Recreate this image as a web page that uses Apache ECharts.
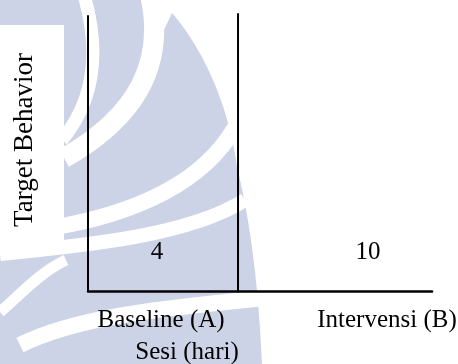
<!DOCTYPE html>
<html>
<head>
<meta charset="utf-8">
<script src="https://cdn.jsdelivr.net/npm/echarts@6/dist/echarts.min.js"></script>
<style>
html,body{margin:0;padding:0;background:#fff;}
#chart{width:458px;height:364px;}
</style>
</head>
<body>
<div id="chart"></div>
<script>
// ---- data ----
const phases = ['Baseline (A)', 'Intervensi (B)'];
const sessionCounts = [4, 10];
const xAxisTitle = 'Sesi (hari)';
const yAxisTitle = 'Target Behavior';

// ---- layout (phase units on x, 0..10 on y) ----
const phaseEnd = 1;          // phase change position
const xMax = 2.293;
const countPos = [[0.46, 1.42], [1.867, 1.42]];
const phaseLabelX = [0.487, 1.993];
const FONT = '"Liberation Serif","Times New Roman",serif';
const WM = '#cdd3e6';

const chart = echarts.init(document.getElementById('chart'), null, {renderer: 'canvas'});

chart.setOption({
  animation: false,
  backgroundColor: '#fff',
  grid: {left: 88, right: 26, top: 16, bottom: 73},
  xAxis: {
    type: 'value', min: 0, max: xMax,
    axisLine: {show: true, onZero: false, lineStyle: {color: '#000', width: 2.5}},
    axisTick: {show: false}, axisLabel: {show: false}, splitLine: {show: false}
  },
  yAxis: {
    type: 'value', min: 0, max: 10,
    axisLine: {show: true, lineStyle: {color: '#000', width: 2}},
    axisTick: {show: false}, axisLabel: {show: false}, splitLine: {show: false}
  },
  series: [
    {
      type: 'line', clip: false, symbol: 'none', silent: true,
      data: [[phaseEnd, 0], [phaseEnd, 10.1]],
      lineStyle: {color: '#000', width: 2}
    }
  ]
});

// ---- texts positioned through the grid's scales ----
const px = (x, y) => chart.convertToPixel({gridIndex: 0}, [x, y]);
const axisY = px(0, 0)[1];
const txt = (text, x, y, size) => ({
  type: 'text', z: 10, silent: true,
  style: {text, x, y, textAlign: 'center', textVerticalAlign: 'middle',
    font: size + 'px ' + FONT, fill: '#000'}
});
const texts = [];
sessionCounts.forEach((v, i) => {
  const p = px(countPos[i][0], countPos[i][1]);
  texts.push(txt(String(v), p[0], p[1], 25));
});
phases.forEach((p, i) => texts.push(txt(p, px(phaseLabelX[i], 0)[0], axisY + 29, 25)));
texts.push(txt(xAxisTitle, px(0.66, 0)[0], axisY + 61, 25));
texts.push({
  type: 'text', z: 10, x: 25, y: 140, rotation: Math.PI / 2, silent: true,
  style: {text: yAxisTitle, x: 0, y: 0, textAlign: 'center', textVerticalAlign: 'middle',
    font: '27px ' + FONT, fill: '#000'}
});

// ---- background watermark (decoration) ----
function bez(p0, c1, c2, p1, n) {
  const out = [];
  for (let i = 0; i <= n; i++) {
    const t = i / n, u = 1 - t;
    out.push([u*u*u*p0[0] + 3*u*u*t*c1[0] + 3*u*t*t*c2[0] + t*t*t*p1[0],
              u*u*u*p0[1] + 3*u*u*t*c1[1] + 3*u*t*t*c2[1] + t*t*t*p1[1]]);
  }
  return out;
}
const outline = [[0,0],[158,0],[163,32]]
  .concat(bez([172,13],[200,45],[228,100],[237,167],16))
  .concat(bez([237,167],[250,220],[258,280],[262,364],12))
  .concat([[0,364]]);
function gap(p0, c1, c2, p1, w) {
  return {type: 'bezierCurve', z: -9, silent: true,
    shape: {x1: p0[0], y1: p0[1], cpx1: c1[0], cpy1: c1[1], cpx2: c2[0], cpy2: c2[1], x2: p1[0], y2: p1[1]},
    style: {stroke: '#fff', lineWidth: w, fill: null}};
}
const wm = [
  {type: 'polygon', z: -10, silent: true, shape: {points: outline}, style: {fill: WM}},
  gap([84,-5],[100,50],[95,100],[62,140], 13),
  gap([150,-5],[165,60],[140,115],[64,158], 20),
  gap([62,226],[120,215],[205,190],[240,118], 16),
  gap([0,254],[90,245],[190,235],[245,200], 14),
  gap([20,345],[80,315],[170,308],[265,298], 16),
  gap([0,312],[20,295],[40,272],[66,260], 11),
  {type: 'rect', z: -8, silent: true, shape: {x: 0, y: 25, width: 64, height: 227}, style: {fill: '#fff'}}
];

chart.setOption({graphic: wm.concat(texts)});
</script>
</body>
</html>
